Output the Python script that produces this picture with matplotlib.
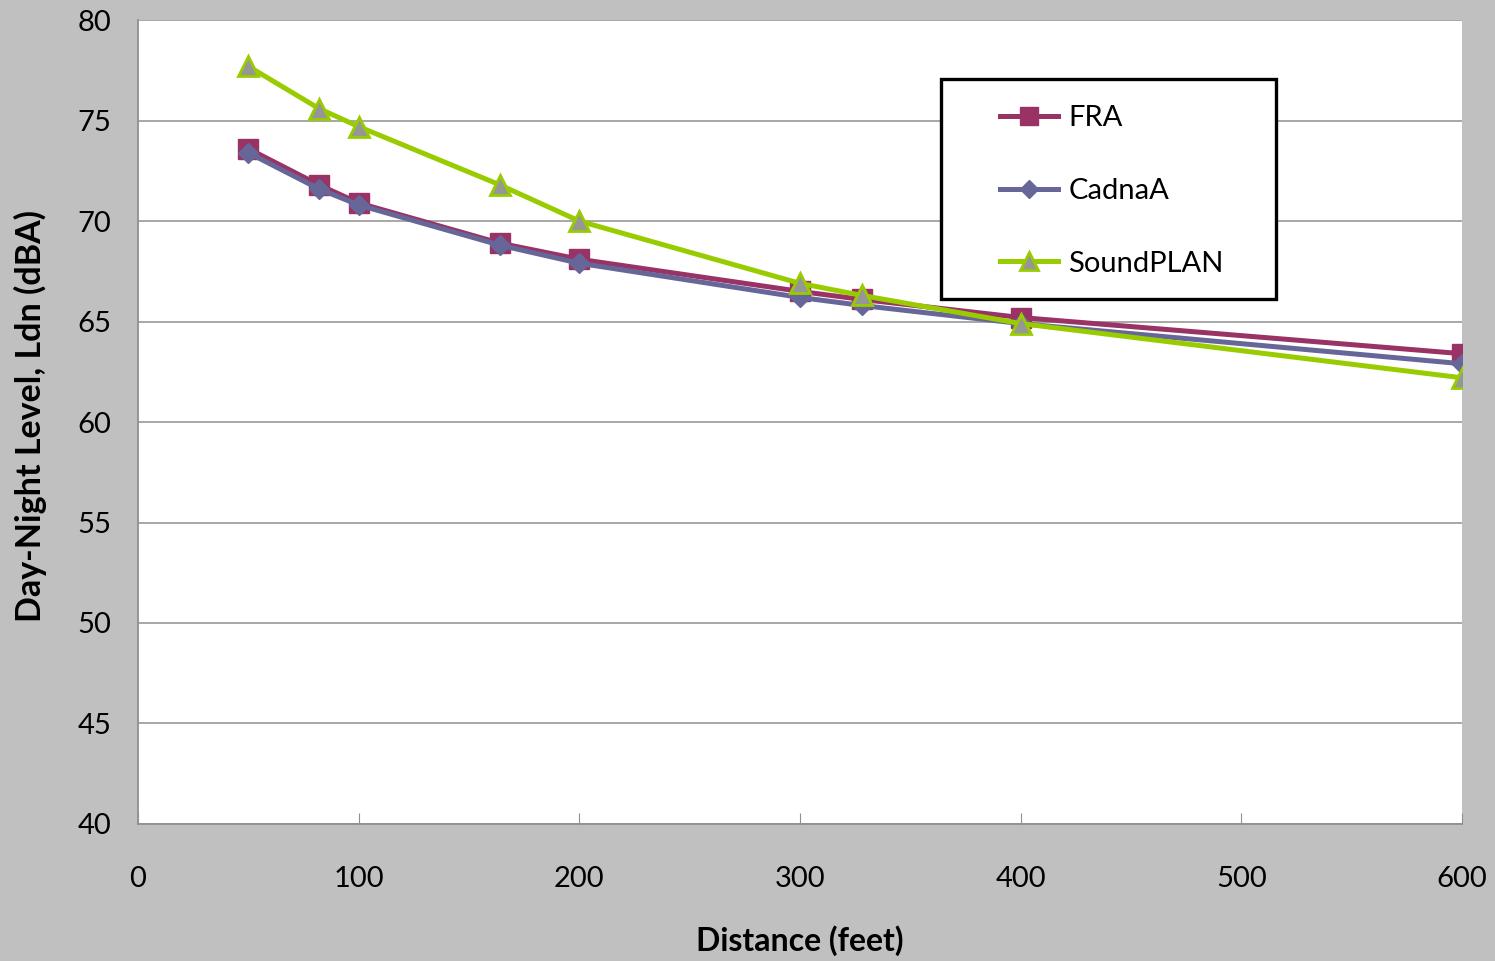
import matplotlib.pyplot as plt
from matplotlib.patches import Rectangle

# distances (feet) and Ldn values
distance = [50, 82, 100, 164, 200, 300, 328, 400, 600]
fra = [73.6, 71.8, 70.9, 68.9, 68.1, 66.5, 66.1, 65.2, 63.4]
cadnaa = [73.4, 71.6, 70.8, 68.8, 67.9, 66.2, 65.8, 64.9, 62.9]
soundplan = [77.7, 75.6, 74.7, 71.8, 70.0, 66.9, 66.3, 64.9, 62.2]

x_ticks = [0, 100, 200, 300, 400, 500, 600]
y_ticks = [40, 45, 50, 55, 60, 65, 70, 75, 80]

plt.rcParams['font.family'] = ['Lato', 'DejaVu Sans']

fig = plt.figure(figsize=(14.95, 9.61), dpi=100, facecolor='#c0c0c0')
ax = fig.add_axes([0.0923, 0.1426, 0.8856, 0.8365])
ax.set_facecolor('white')

ax.plot(distance, fra, color='#993366', lw=3.6, marker='s', ms=14,
        mfc='#993366', mec='#993366', label='FRA', zorder=3)
ax.plot(distance, cadnaa, color='#666699', lw=3.6, marker='D', ms=10,
        mfc='#666699', mec='#666699', label='CadnaA', zorder=4)
ax.plot(distance, soundplan, color='#99cc00', lw=3.6, marker='^', ms=14,
        mfc='#969696', mec='#99cc00', mew=2, label='SoundPLAN', zorder=5)

ax.set_xlim(0, 600)
ax.set_ylim(40, 80)
ax.set_xticks(x_ticks)
ax.set_yticks(y_ticks)
ax.grid(axis='y', color='#a0a0a0', lw=1.3)
ax.set_axisbelow(True)

for s in ['top', 'right']:
    ax.spines[s].set_visible(False)
for s in ['left', 'bottom']:
    ax.spines[s].set_color('#909090')
    ax.spines[s].set_linewidth(1.3)

ax.tick_params(axis='x', direction='in', length=8, color='#909090',
               labelsize=21, pad=30)
ax.tick_params(axis='y', length=0, labelsize=21, pad=19)

ax.set_xlabel('Distance (feet)', fontsize=23, fontweight='bold', labelpad=24)
ax.set_ylabel('Day-Night Level, Ldn (dBA)', fontsize=24.5, fontweight='bold')
ax.yaxis.set_label_coords(-0.0685, 0.5075)

# legend frame drawn separately so the padding can differ per side
ax.add_patch(Rectangle((0.6065, 0.653), 0.253, 0.2736, transform=ax.transAxes,
                       facecolor='white', edgecolor='black', lw=2.4,
                       zorder=6, clip_on=False))
leg = ax.legend(loc='center left', bbox_to_anchor=(0.651, 0.7875),
                fontsize=21, frameon=False, handlelength=2.0,
                labelspacing=1.6, borderpad=0, borderaxespad=0,
                handletextpad=0.35, markerscale=0.9)
leg.set_zorder(7)

fig.savefig('out.png', dpi=100, facecolor=fig.get_facecolor())
